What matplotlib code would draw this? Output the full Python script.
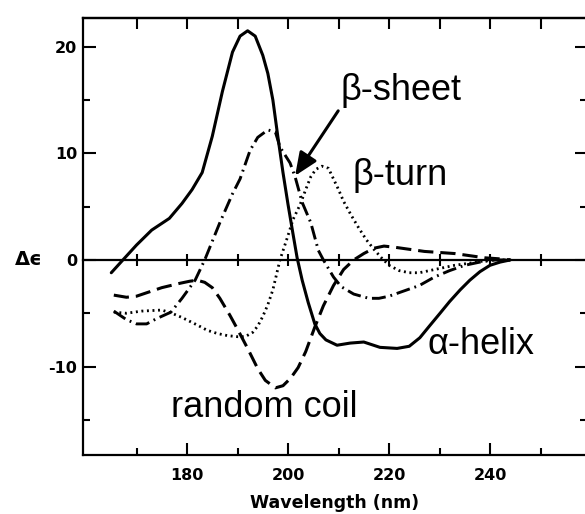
import matplotlib
matplotlib.use("Agg")
import matplotlib.pyplot as plt
from matplotlib.ticker import FixedLocator, NullFormatter

plt.rcParams['lines.scale_dashes'] = False
plt.rcParams['axes.unicode_minus'] = False

# ---- data (nm, delta epsilon) ----
helix_x = [165.0, 167.3, 170, 173, 176.5, 179, 181, 183, 185, 187, 189, 190.5, 192,
           193.5, 195, 196, 197, 198, 199, 200, 201, 201.8, 202.8, 204, 205.3, 206.3,
           207.5, 209.7, 212.3, 215, 218.2, 221.6, 224, 226.1, 228, 230.1, 232, 234.1,
           236, 238, 240, 242, 244]
helix_y = [-1.2, 0.0, 1.4, 2.8, 3.9, 5.3, 6.6, 8.2, 11.6, 15.8, 19.5, 21.0, 21.5,
           21.0, 19.2, 17.5, 15.0, 11.5, 8.2, 5.2, 2.4, 0.2, -1.9, -4.0, -6.0, -6.9,
           -7.5, -8.0, -7.8, -7.7, -8.2, -8.3, -8.1, -7.3, -6.2, -5.0, -3.9, -2.8,
           -1.9, -1.1, -0.5, -0.2, 0.0]

sheet_x = [165.5, 168, 170, 172, 174, 176.8, 179, 181.6, 183.5, 186.5, 189, 190.5,
           192.5, 194, 196, 197.5, 198.4, 200.4, 201.4, 202.8, 204.5, 206, 207, 209,
           210.5, 213, 216, 218, 220, 223, 226, 229, 232, 235, 238, 241, 244]
sheet_y = [-4.8, -5.6, -6.0, -6.0, -5.5, -4.9, -3.6, -1.9, 0.0, 3.5, 6.2, 7.6,
           10.3, 11.5, 12.2, 12.0, 10.6, 9.1, 7.8, 5.4, 3.5, 0.9, 0.0, -1.6,
           -2.5, -3.2, -3.6, -3.6, -3.4, -2.9, -2.4, -1.6, -1.0, -0.5, -0.2, 0.0, 0.0]

turn_x = [165.5, 168, 171, 175, 177, 179, 182, 184, 186, 188, 190, 191.5, 193, 194,
          195, 196, 197, 198.4, 200, 201, 202.4, 203.5, 204.5, 205.5, 206.7, 208, 209,
          210, 211, 212.5, 214, 215.5, 217, 218.5, 220, 222, 224, 226, 228, 230, 233,
          236, 240, 244]
turn_y = [-4.9, -5.0, -4.8, -4.7, -5.0, -5.4, -6.1, -6.6, -6.9, -7.1, -7.2, -7.2, -6.8,
          -6.2, -5.3, -4.2, -2.8, 0.0, 2.3, 3.8, 5.2, 6.6, 7.8, 8.5, 8.8, 8.6, 7.6,
          6.6, 5.5, 4.2, 3.0, 1.9, 1.0, 0.2, -0.5, -1.0, -1.2, -1.2, -1.0, -0.8, -0.5,
          -0.3, 0.0, 0.0]

coil_x = [165.5, 168, 170, 172.5, 175, 178.5, 180.5, 182, 183.5, 185, 186.5, 188.5,
          190, 192, 194, 195.5, 197.5, 199, 200.5, 202, 203.5, 205.3, 207, 209, 211,
          213, 215, 217, 219, 221, 224, 227, 230, 233, 236, 239, 242, 244]
coil_y = [-3.3, -3.5, -3.4, -3.0, -2.6, -2.2, -2.0, -1.9, -2.1, -2.6, -3.6, -5.2,
          -6.5, -8.3, -10.2, -11.3, -12.0, -11.8, -11.1, -10.1, -8.6, -6.3, -4.3,
          -2.4, -0.9, 0.0, 0.6, 1.1, 1.3, 1.2, 1.0, 0.8, 0.7, 0.6, 0.4, 0.2, 0.1, 0.0]

x_major = [180, 200, 220, 240]
x_minor = [170, 190, 210, 230, 250]
y_major = [-10, 0, 10, 20]
y_minor = [-15, -5, 5, 15]

XMIN, XMAX = 159.4, 259.2
YMIN, YMAX = -18.3, 22.7

fig = plt.figure(figsize=(5.85, 5.14), dpi=100)
ax = fig.add_axes([83 / 585, 59 / 514, 504 / 585, 437 / 514])

ax.plot(helix_x, helix_y, color='black', lw=2.2, solid_capstyle='round')
ax.plot(sheet_x, sheet_y, color='black', lw=2.1, dashes=(10, 3.5, 1.3, 3.5))
ax.plot(turn_x, turn_y, color='black', lw=2.0, dashes=(1.4, 2.6))
ax.plot(coil_x, coil_y, color='black', lw=2.2, dashes=(11, 5))

ax.set_xlim(XMIN, XMAX)
ax.set_ylim(YMIN, YMAX)

for s in ax.spines.values():
    s.set_linewidth(1.6)

tick_font = dict(family='DejaVu Sans', weight='bold', size=11.5)
ax.xaxis.set_major_locator(FixedLocator(x_major))
ax.xaxis.set_minor_locator(FixedLocator(x_minor))
ax.yaxis.set_major_locator(FixedLocator(y_major))
ax.yaxis.set_minor_locator(FixedLocator(y_minor))
ax.set_xticklabels([str(v) for v in x_major], **tick_font)
ax.set_yticklabels([str(v) for v in y_major], **tick_font)
ax.tick_params(which='major', direction='in', length=9, width=1.5,
               left=True, right=True, bottom=True, top=False)
ax.tick_params(which='minor', direction='in', length=5, width=1.5,
               left=True, right=True, bottom=True, top=False)
ax.tick_params(axis='x', which='major', pad=9)
ax.tick_params(axis='y', which='major', pad=4)

# top: every 10 nm, same length
top = ax.secondary_xaxis('top')
top.xaxis.set_major_locator(FixedLocator(sorted(x_major + x_minor)))
top.xaxis.set_major_formatter(NullFormatter())
top.tick_params(direction='in', length=8, width=1.5)
top.spines['top'].set_linewidth(1.6)

# zero line with ticks across it
zero = ax.secondary_xaxis((0 - YMIN) / (YMAX - YMIN))
zero.xaxis.set_major_locator(FixedLocator(sorted(x_major + x_minor)))
zero.xaxis.set_major_formatter(NullFormatter())
zero.tick_params(direction='inout', length=9, width=1.5)
zero.spines['bottom'].set_linewidth(1.6)

ax.set_xlabel('Wavelength (nm)', family='DejaVu Sans', weight='bold', size=12.5,
              labelpad=8)
ax.set_ylabel('Δϵ', family='DejaVu Sans', weight='bold', size=14, rotation=0,
              va='center', ha='center')
ax.yaxis.set_label_coords(-0.108, (0 - YMIN) / (YMAX - YMIN))

lab = dict(family='Liberation Sans', size=26, color='black')
ax.annotate('β-sheet', xy=(201.4, 7.9), xytext=(210.3, 15.0), ha='left',
            va='baseline', **lab,
            arrowprops=dict(arrowstyle='-|>,head_width=0.3,head_length=0.7',
                            color='black', lw=2.2, mutation_scale=20,
                            shrinkA=0, shrinkB=0, relpos=(0.0, 0.0)))
ax.text(212.7, 7.0, 'β-turn', ha='left', va='baseline', **lab)
ax.text(227.7, -8.8, 'α-helix', ha='left', va='baseline', **lab)
ax.text(176.8, -14.7, 'random coil', ha='left', va='baseline', **lab)

fig.savefig('out.png', dpi=100)
